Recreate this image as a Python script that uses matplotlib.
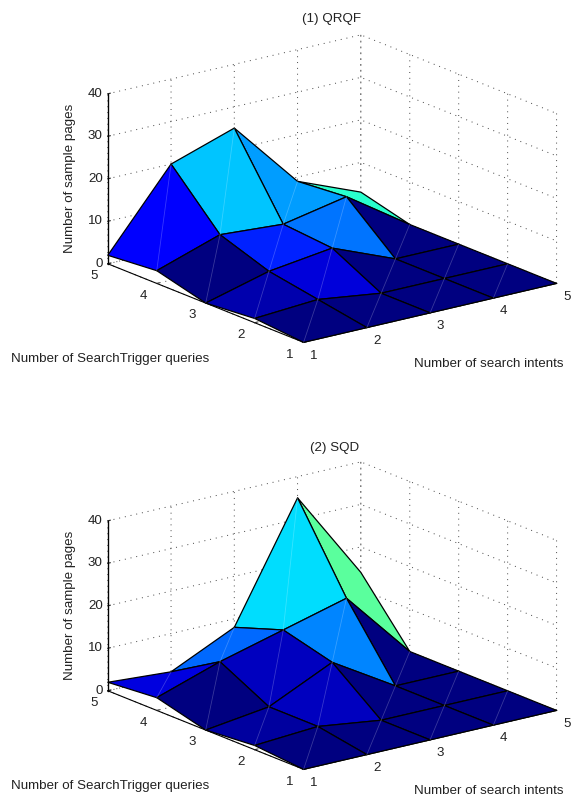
import numpy as np
import matplotlib
matplotlib.use("Agg")
import matplotlib.pyplot as plt
from matplotlib.colors import Normalize

plt.rcParams['font.family'] = ['Liberation Sans', 'DejaVu Sans']

intents = [1, 2, 3, 4, 5]
queries = [1, 2, 3, 4, 5]
z_ticks = [0, 10, 20, 30, 40]

# rows: SearchTrigger queries 1..5, columns: search intents 1..5
qrqf = [[0, 0, 0, 0, 0],
        [1, 2, 0, 0, 0],
        [0, 4, 6, 0, 0],
        [3, 8, 7, 10, 0],
        [2, 20, 25, 9, 3]]
sqd = [[0, 0, 0, 0, 0],
       [1, 2, 0, 0, 0],
       [0, 2, 9, 0, 0],
       [3, 8, 12, 16, 0],
       [2, 1, 8, 35, 14]]

W, H = 571, 797
fig = plt.figure(figsize=(W / 100, H / 100), dpi=100, facecolor='white')
S = 473
FS = 9.6


def panel(data, cx, cy):
    ax = fig.add_axes([(cx - S / 2) / W, (H - cy - S / 2) / H, S / W, S / H],
                      projection='3d', proj_type='ortho', computed_zorder=False)
    ax.patch.set_alpha(0)
    ax.set_box_aspect((318, 323, 178.5), zoom=1)
    ax.view_init(elev=17.8, azim=-127.3)
    X, Y = np.meshgrid(intents, queries)
    Z = np.array(data, float)
    colors = plt.cm.jet(Normalize(Z.min(), Z.max())(Z))
    ax.plot_surface(X, Y, Z, facecolors=colors, rstride=1, cstride=1, shade=False,
                    edgecolor='black', linewidth=0.9, antialiased=True, zorder=1)
    # faint triangulation seams of each facet
    n = len(intents)
    for r in range(n - 1):
        for c in range(n - 1):
            if r == n - 2 and c == n - 2:
                continue
            ax.plot([X[r, c], X[r + 1, c + 1]], [Y[r, c], Y[r + 1, c + 1]],
                    [Z[r, c], Z[r + 1, c + 1]], color='white', alpha=0.22, lw=0.6, zorder=1.5)
    ax.set_xlim(1, 5)
    ax.set_ylim(1, 5)
    ax.set_zlim(0, 40)
    ax.set_xticks(intents)
    ax.set_yticks(queries)
    ax.set_zticks(z_ticks)
    # left vertical axis line
    ax.plot([intents[0]] * 2, [queries[-1]] * 2, [z_ticks[0], z_ticks[-1]],
            color='black', lw=0.9, zorder=0.5)
    for a in (ax.xaxis, ax.yaxis, ax.zaxis):
        a.set_pane_color((1, 1, 1, 0))
        a.line.set_color('black')
        a.line.set_linewidth(0.8)
        a._axinfo['grid'].update(color='#444444', linestyle=(0, (1, 5)), linewidth=0.7)
        a._axinfo['tick'].update(inward_factor=0.0, outward_factor=0.12)
    ax.tick_params(labelsize=FS, pad=1.5, width=0.7, colors='#222222')
    ax.zaxis.set_tick_params(pad=-6)
    ax.zaxis.set_ticks_position('upper')
    for a in (ax.xaxis, ax.yaxis, ax.zaxis):
        for lab in a.get_ticklabels():
            lab.set_va('center')
    for lab in ax.zaxis.get_ticklabels():
        lab.set_ha('right')
    return ax


panel(qrqf, 325.8, 195)
panel(sqd, 325.8, 622)


def t(x, y, s, **kw):
    fig.text(x / W, 1 - y / H, s, fontsize=FS, color='#222222', va='center', **kw)


for dy, title in ((0, '(1) QRQF'), (427, '(2) SQD')):
    t(331 + (4 if dy else 0), 19 + dy + (2 if dy else 0), title, ha='center')
    t(70.5, 178 + dy, 'Number of sample pages', ha='center', rotation=90)
    t(11, 359 + dy, 'Number of SearchTrigger queries', ha='left')
    t(564, 364 + dy, 'Number of search intents', ha='right')

fig.savefig('out.png', dpi=100)
